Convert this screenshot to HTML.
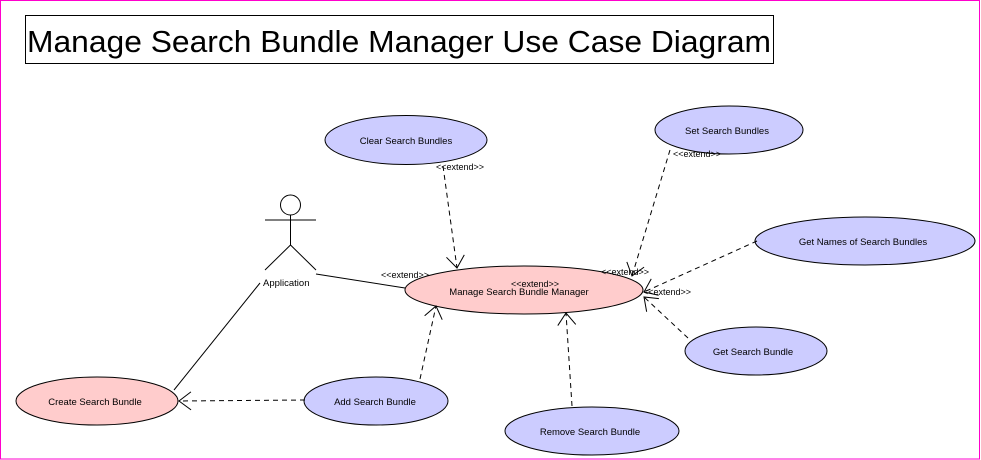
<!DOCTYPE html>
<html><head><meta charset="utf-8"><style>
html,body{margin:0;padding:0;background:#fff}
svg{display:block}
text{font-family:"Liberation Sans",Arial,sans-serif;fill:#000}
.s{font-size:9.5px}
.e{font-size:9px}
</style></head><body>
<svg width="981" height="460" viewBox="0 0 981 460" xmlns="http://www.w3.org/2000/svg">
<defs>
<marker id="a" markerWidth="16" markerHeight="20" refX="13" refY="10" orient="auto" markerUnits="userSpaceOnUse">
<path d="M1,1 L13,10 L1,19" fill="none" stroke="#000" stroke-width="1"/>
</marker>
</defs>
<rect x="0.5" y="0.5" width="979" height="458.5" fill="#fff" stroke="#ff00cc" stroke-width="1"/>
<rect x="25.5" y="15.5" width="748" height="48" fill="#fff" stroke="#000"/>
<text x="27" y="52" font-size="31" textLength="744" lengthAdjust="spacingAndGlyphs">Manage Search Bundle Manager Use Case Diagram</text>

<g stroke="#000" fill="none" stroke-width="1">
<line x1="316" y1="274" x2="405" y2="288"/>
<line x1="174" y1="390" x2="260" y2="283"/>
<circle cx="290.5" cy="205" r="10"/>
<line x1="290.5" y1="215" x2="290.5" y2="245"/>
<line x1="265" y1="220" x2="316" y2="220"/>
<line x1="290.5" y1="245" x2="265" y2="270"/>
<line x1="290.5" y1="245" x2="316" y2="270"/>
</g>
<text class="s" x="263" y="286">Application</text>

<g fill="#ccccff" stroke="#000">
<ellipse cx="406" cy="140" rx="81" ry="24.5"/>
<ellipse cx="729" cy="130" rx="74" ry="24"/>
<ellipse cx="865" cy="241" rx="110" ry="24"/>
<ellipse cx="756" cy="351" rx="71" ry="24"/>
<ellipse cx="376" cy="401" rx="72" ry="24"/>
<ellipse cx="592" cy="431" rx="87" ry="24"/>
</g>
<g fill="#ffcccc" stroke="#000">
<ellipse cx="524" cy="290" rx="119" ry="24"/>
<ellipse cx="97" cy="401" rx="81" ry="24"/>
</g>

<g stroke="#000" fill="none" stroke-dasharray="5,4" marker-end="url(#a)">
<line x1="443" y1="166" x2="457" y2="268"/>
<line x1="670" y1="150" x2="632" y2="276"/>
<line x1="757" y1="241" x2="644" y2="292"/>
<line x1="688" y1="338" x2="644" y2="297"/>
<line x1="572" y1="406" x2="566" y2="313"/>
<line x1="420" y1="379" x2="436" y2="306"/>
<line x1="305" y1="400" x2="179" y2="401"/>
</g>

<g text-anchor="middle">
<text class="s" x="406" y="144">Clear Search Bundles</text>
<text class="s" x="727" y="134">Set Search Bundles</text>
<text class="s" x="863" y="245">Get Names of Search Bundles</text>
<text class="s" x="753" y="355">Get Search Bundle</text>
<text class="s" x="375" y="405">Add Search Bundle</text>
<text class="s" x="590" y="435">Remove Search Bundle</text>
<text class="s" x="95" y="405">Create Search Bundle</text>
<text class="s" x="519" y="295">Manage Search Bundle Manager</text>
<text class="e" x="535" y="287">&lt;&lt;extend&gt;&gt;</text>
</g>
<text class="e" x="436" y="170">&lt;&lt;extend&gt;&gt;</text>
<text class="e" x="673" y="157">&lt;&lt;extend&gt;&gt;</text>
<text class="e" x="381" y="278">&lt;&lt;extend&gt;&gt;</text>
<text class="e" x="601" y="275">&lt;&lt;extend&gt;&gt;</text>
<text class="e" x="643" y="295">&lt;&lt;extend&gt;&gt;</text>
</svg>
</body></html>
